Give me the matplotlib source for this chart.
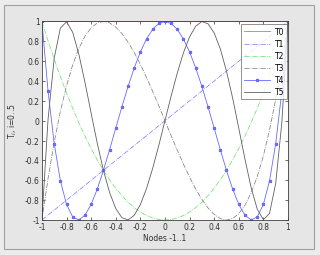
import matplotlib
matplotlib.use("Agg")
import matplotlib.pyplot as plt
from matplotlib.patches import Rectangle

# Nodes -1..1 (step 0.05)
nodes = [-1.0, -0.95, -0.9, -0.85, -0.8, -0.75, -0.7, -0.65, -0.6, -0.55, -0.5,
         -0.45, -0.4, -0.35, -0.3, -0.25, -0.2, -0.15, -0.1, -0.05, 0.0,
         0.05, 0.1, 0.15, 0.2, 0.25, 0.3, 0.35, 0.4, 0.45, 0.5,
         0.55, 0.6, 0.65, 0.7, 0.75, 0.8, 0.85, 0.9, 0.95, 1.0]

t0 = [1.0] * 41
t1 = [-1.0, -0.95, -0.9, -0.85, -0.8, -0.75, -0.7, -0.65, -0.6, -0.55, -0.5,
      -0.45, -0.4, -0.35, -0.3, -0.25, -0.2, -0.15, -0.1, -0.05, 0.0,
      0.05, 0.1, 0.15, 0.2, 0.25, 0.3, 0.35, 0.4, 0.45, 0.5,
      0.55, 0.6, 0.65, 0.7, 0.75, 0.8, 0.85, 0.9, 0.95, 1.0]
t2 = [1.0, 0.805, 0.62, 0.445, 0.28, 0.125, -0.02, -0.155, -0.28, -0.395, -0.5,
      -0.595, -0.68, -0.755, -0.82, -0.875, -0.92, -0.955, -0.98, -0.995, -1.0,
      -0.995, -0.98, -0.955, -0.92, -0.875, -0.82, -0.755, -0.68, -0.595, -0.5,
      -0.395, -0.28, -0.155, -0.02, 0.125, 0.28, 0.445, 0.62, 0.805, 1.0]
t3 = [-1.0, -0.58, -0.216, 0.094, 0.352, 0.563, 0.728, 0.852, 0.936, 0.985, 1.0,
      0.986, 0.944, 0.879, 0.792, 0.688, 0.568, 0.437, 0.296, 0.15, 0.0,
      -0.15, -0.296, -0.437, -0.568, -0.688, -0.792, -0.879, -0.944, -0.986, -1.0,
      -0.985, -0.936, -0.852, -0.728, -0.563, -0.352, -0.094, 0.216, 0.58, 1.0]
t4 = [1.0, 0.296, -0.231, -0.604, -0.843, -0.969, -0.999, -0.952, -0.843, -0.688, -0.5,
      -0.292, -0.075, 0.14, 0.345, 0.531, 0.693, 0.824, 0.921, 0.98, 1.0,
      0.98, 0.921, 0.824, 0.693, 0.531, 0.345, 0.14, -0.075, -0.292, -0.5,
      -0.688, -0.843, -0.952, -0.999, -0.969, -0.843, -0.604, -0.231, 0.296, 1.0]
t5 = [-1.0, 0.017, 0.632, 0.933, 0.997, 0.891, 0.671, 0.386, 0.076, -0.228, -0.5,
      -0.723, -0.884, -0.977, -0.999, -0.953, -0.845, -0.684, -0.48, -0.248, 0.0,
      0.248, 0.48, 0.684, 0.845, 0.953, 0.999, 0.977, 0.884, 0.723, 0.5,
      0.228, -0.076, -0.386, -0.671, -0.891, -0.997, -0.933, -0.632, -0.017, 1.0]

labels = ["T0", "T1", "T2", "T3", "T4", "T5"]
ticks = [-1, -0.8, -0.6, -0.4, -0.2, 0, 0.2, 0.4, 0.6, 0.8, 1]
tick_labels = ["-1", "-0.8", "-0.6", "-0.4", "-0.2", "0", "0.2", "0.4", "0.6", "0.8", "1"]

plt.rcParams["font.family"] = "DejaVu Sans"
fig = plt.figure(figsize=(3.2, 2.555), dpi=100, facecolor="#ececec")
# screenshot frame
fig.patches.append(Rectangle((0.012, 0.025), 0.968, 0.955, transform=fig.transFigure,
                             facecolor="#e6e6e6", edgecolor="#a0a0a0", lw=0.8, zorder=-5))
ax = fig.add_axes([0.131, 0.137, 0.769, 0.777])
ax.set_facecolor("white")

ax.plot(nodes, t0, color="#ff6060", lw=0.6, label=labels[0])
ax.plot(nodes, t1, color="#8080ff", lw=0.55, ls="-.", label=labels[1])
ax.plot(nodes, t2, color="#70e070", lw=0.55, ls="-.", label=labels[2])
ax.plot(nodes, t3, color="#808080", lw=0.55, ls="-.", label=labels[3])
ax.plot(nodes, t4, color="#6a6aff", lw=0.6, marker="*", ms=2.2, label=labels[4])
ax.plot(nodes, t5, color="#606060", lw=0.6, label=labels[5])

ax.set_xlim(-1, 1)
ax.set_ylim(-1, 1)
ax.set_xticks(ticks)
ax.set_xticklabels(tick_labels)
ax.set_yticks(ticks)
ax.set_yticklabels(tick_labels)
ax.tick_params(direction="in", length=2.5, width=0.5, labelsize=5.5, pad=1.5,
               top=True, right=True, colors="#303030")
for s in ax.spines.values():
    s.set_linewidth(0.6)
    s.set_color("#404040")

ax.set_xlabel("Nodes -1..1", fontsize=5.5, labelpad=2, color="#303030")
ax.set_ylabel("T$_i$, i=0..5", fontsize=5.5, labelpad=4, color="#303030")

leg = ax.legend(loc="upper right", fontsize=5.5, frameon=True, fancybox=False,
                handlelength=3.4, borderpad=0.35, labelspacing=0.4, handletextpad=0.6,
                bbox_to_anchor=(0.995, 0.985), borderaxespad=0)
leg.get_frame().set_edgecolor("#404040")
leg.get_frame().set_linewidth(0.5)

plt.savefig("out.png", dpi=100, facecolor=fig.get_facecolor())
